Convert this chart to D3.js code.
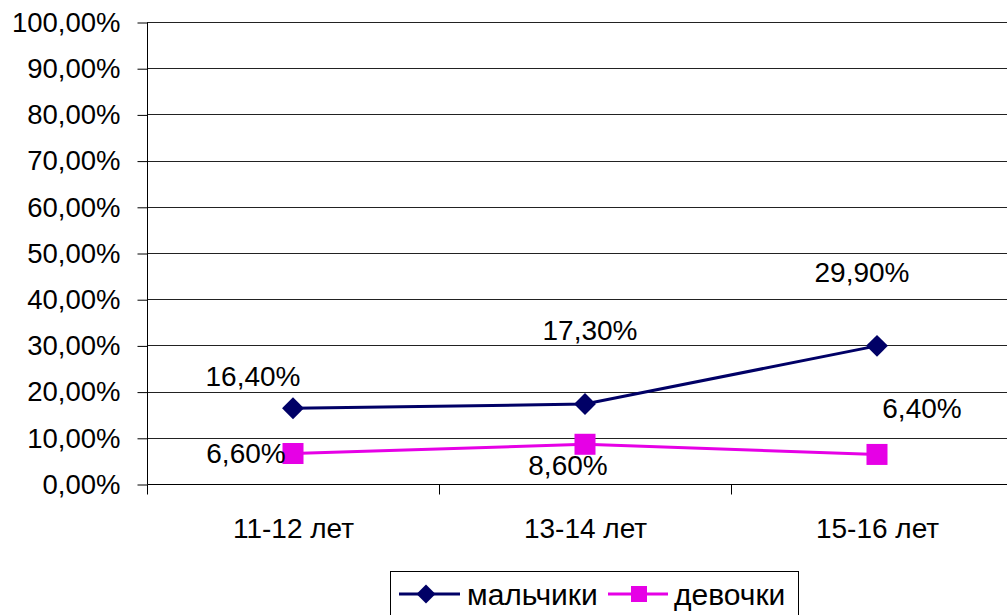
<!DOCTYPE html>
<html>
<head>
<meta charset="utf-8">
<script src="https://cdn.jsdelivr.net/npm/d3@7"></script>
<style>
  html, body { margin: 0; padding: 0; background: #fff; }
  svg { display: block; font-family: "Liberation Sans", Arial, sans-serif; }
</style>
</head>
<body>
<svg id="chart" width="1007" height="615"></svg>
<script>
// Age groups and shares (%) per series
const categories = ["11-12 лет", "13-14 лет", "15-16 лет"];
const boysValues = [16.4, 17.3, 29.9];
const girlsValues = [6.6, 8.6, 6.4];
const seriesNames = ["мальчики", "девочки"];
const yTicks = [0, 10, 20, 30, 40, 50, 60, 70, 80, 90, 100];

const fmt = v => v.toFixed(2).replace(".", ",") + "%";
const FONT = "Liberation Sans, Arial, sans-serif";
const FS = 28;

const svg = d3.select("#chart");
const plot = { left: 147, right: 1023, top: 22, bottom: 484 };

const x = d3.scaleBand().domain(categories).range([plot.left, plot.right]);
const y = d3.scaleLinear().domain([0, 100]).range([plot.bottom, plot.top]);
const cx = c => x(c) + x.bandwidth() / 2;

// Horizontal gridlines
svg.append("g")
  .selectAll("line")
  .data(yTicks.filter(t => t > 0))
  .join("line")
  .attr("x1", plot.left).attr("x2", 1007)
  .attr("y1", d => Math.round(y(d)) + 0.5).attr("y2", d => Math.round(y(d)) + 0.5)
  .attr("stroke", "#222").attr("stroke-width", 1);

// Y axis
const yAxis = svg.append("g")
  .attr("transform", `translate(${plot.left + 0.5},0.5)`)
  .call(d3.axisLeft(y).tickValues(yTicks).tickFormat(fmt).tickSize(10).tickPadding(17));
yAxis.select(".domain").attr("stroke", "#000").attr("d", `M0,${plot.top}V${plot.bottom}`);
yAxis.selectAll(".tick line").attr("stroke", "#000");
yAxis.selectAll("text").attr("font-size", 27.5).attr("fill", "#000").attr("font-family", FONT);

// X axis
const xAxis = svg.append("g")
  .attr("transform", `translate(0.5,${plot.bottom + 0.5})`)
  .call(d3.axisBottom(x).tickSize(0));
xAxis.select(".domain").attr("stroke", "#000").attr("d", `M${plot.left},0H1007`);
xAxis.selectAll("text")
  .attr("y", 44).attr("dy", "0.35em")
  .attr("font-size", FS).attr("fill", "#000").attr("font-family", FONT);
// Category boundary ticks
xAxis.append("g").selectAll("line")
  .data(categories)
  .join("line")
  .attr("x1", d => Math.round(x(d))).attr("x2", d => Math.round(x(d)))
  .attr("y1", 0).attr("y2", 10)
  .attr("stroke", "#000");

const boysColor = "#000066";
const girlsColor = "#e600e6";

const line = d3.line().x((d, i) => cx(categories[i])).y(d => y(d));

// Series lines
svg.append("path").datum(boysValues).attr("d", line)
  .attr("fill", "none").attr("stroke", boysColor).attr("stroke-width", 3);
svg.append("path").datum(girlsValues).attr("d", line)
  .attr("fill", "none").attr("stroke", girlsColor).attr("stroke-width", 3);

// Markers
const diamond = d3.symbol().type(d3.symbolSquare).size(240);
svg.append("g").selectAll("path")
  .data(boysValues)
  .join("path")
  .attr("d", diamond)
  .attr("transform", (d, i) => `translate(${cx(categories[i])},${y(d)}) rotate(45)`)
  .attr("fill", boysColor);

svg.append("g").selectAll("rect")
  .data(girlsValues)
  .join("rect")
  .attr("x", (d, i) => cx(categories[i]) - 10.5)
  .attr("y", d => y(d) - 10.5)
  .attr("width", 21).attr("height", 21)
  .attr("fill", girlsColor);

// Data labels (offsets from each point)
const boysLabelOffsets = [[-40, -32], [5, -73.5], [-15, -73]];
const girlsLabelOffsets = [[-47, -0.5], [-17, 21], [45, -46]];

function labels(values, offsets) {
  svg.append("g").selectAll("text")
    .data(values)
    .join("text")
    .attr("x", (d, i) => cx(categories[i]) + offsets[i][0])
    .attr("y", (d, i) => y(d) + offsets[i][1])
    .attr("text-anchor", "middle")
    .attr("dominant-baseline", "central")
    .attr("font-size", FS)
    .attr("fill", "#000")
    .text(fmt);
}
labels(boysValues, boysLabelOffsets);
labels(girlsValues, girlsLabelOffsets);

// Legend
const legend = svg.append("g");
legend.append("rect")
  .attr("x", 390.5).attr("y", 571.5).attr("width", 408).attr("height", 60)
  .attr("fill", "#fff").attr("stroke", "#000");
const ly = 594;
legend.append("line").attr("x1", 399).attr("x2", 460).attr("y1", ly).attr("y2", ly)
  .attr("stroke", boysColor).attr("stroke-width", 3);
legend.append("path").attr("d", d3.symbol().type(d3.symbolSquare).size(180))
  .attr("transform", `translate(426,${ly}) rotate(45)`).attr("fill", boysColor);
legend.append("text").attr("x", 467).attr("y", 605)
  .attr("font-size", 30).attr("fill", "#000").text(seriesNames[0]);
legend.append("line").attr("x1", 608).attr("x2", 668).attr("y1", ly).attr("y2", ly)
  .attr("stroke", girlsColor).attr("stroke-width", 3);
legend.append("rect").attr("x", 631).attr("y", ly - 8).attr("width", 16).attr("height", 16)
  .attr("fill", girlsColor);
legend.append("text").attr("x", 674).attr("y", 605)
  .attr("font-size", 30).attr("fill", "#000").text(seriesNames[1]);
</script>
</body>
</html>
